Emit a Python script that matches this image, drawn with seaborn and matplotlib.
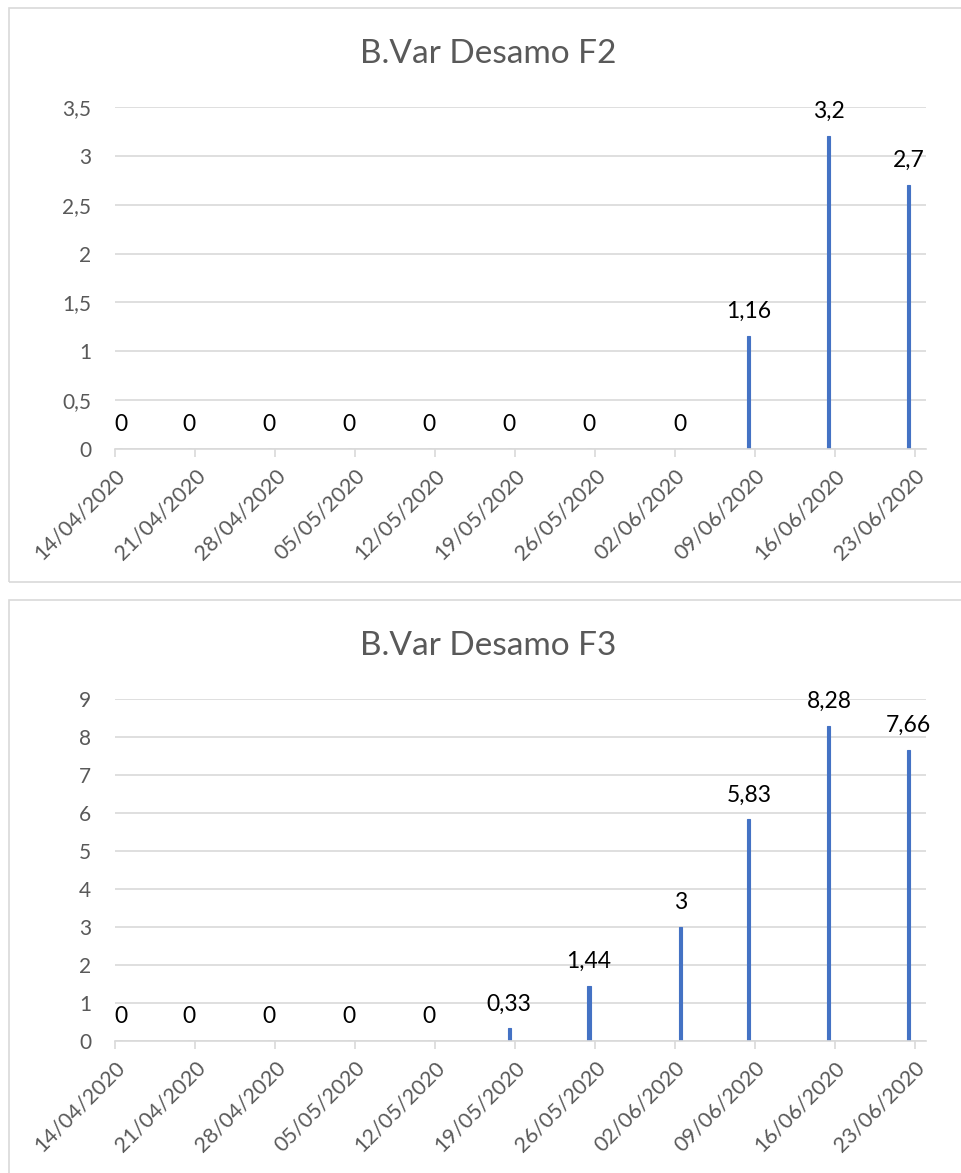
import matplotlib
matplotlib.use('Agg')
import matplotlib.pyplot as plt
import matplotlib.dates as mdates
import matplotlib.patches as patches
import numpy as np
import pandas as pd
import seaborn as sns

# Dados
datas = ['14/04/2020', '20/04/2020', '27/04/2020', '04/05/2020', '11/05/2020', '18/05/2020',
         '25/05/2020', '02/06/2020', '08/06/2020', '15/06/2020', '22/06/2020']
valores_f2 = [0, 0, 0, 0, 0, 0, 0, 0, 1.16, 3.2, 2.7]
valores_f3 = [0, 0, 0, 0, 0, 0.33, 1.44, 3, 5.83, 8.28, 7.66]
titulos = ['B.Var Desamo F2', 'B.Var Desamo F3']
eixo_datas = ['14/04/2020', '21/04/2020', '28/04/2020', '05/05/2020', '12/05/2020', '19/05/2020',
              '26/05/2020', '02/06/2020', '09/06/2020', '16/06/2020', '23/06/2020']
yticks_f2 = [0, 0.5, 1, 1.5, 2, 2.5, 3, 3.5]
yticks_f3 = [0, 1, 2, 3, 4, 5, 6, 7, 8, 9]

AZUL = '#4472C4'
CINZA = '#595959'
GRADE = '#D9D9D9'

sns.set_theme(style='white')
plt.rcParams['font.family'] = ['Lato', 'DejaVu Sans']

W, H = 961, 1173


def fmt_br(v):
    return f"{v:g}".replace('.', ',')


def desenhar(fig, topo_px, valores, yticks, titulo):
    # moldura do gráfico (estilo Excel)
    fig.patches.append(patches.Rectangle((9 / W, 1 - (topo_px + 574) / H), 1.0, 574 / H,
                                         transform=fig.transFigure, fill=False,
                                         edgecolor=GRADE, linewidth=1.2))
    fig.text(488 / W, 1 - (topo_px + 55) / H, titulo, ha='center', va='baseline',
             fontsize=24, color=CINZA)

    base_px = topo_px + 441
    ax = fig.add_axes([115 / W, 1 - base_px / H, 811 / W, 342 / H])

    x = mdates.date2num(pd.to_datetime(datas, format='%d/%m/%Y')) + 0.5
    sns.barplot(x=x, y=valores, native_scale=True, width=0.045, color=AZUL,
                saturation=1, errorbar=None, ax=ax, edgecolor=AZUL, linewidth=0.8)

    for xi, v in zip(x, valores):
        ax.annotate(fmt_br(v), (xi, v), xytext=(0, 13), textcoords='offset points',
                    ha='center', va='baseline', fontsize=16.5, color='black')

    ticks = mdates.date2num(pd.to_datetime(eixo_datas, format='%d/%m/%Y'))
    ax.set_xlim(ticks[0], ticks[0] + 71)
    ax.set_xticks(ticks)
    ax.set_xticklabels(eixo_datas, rotation=45, ha='right', rotation_mode='anchor',
                       fontsize=15.5, color=CINZA)
    ax.set_ylim(yticks[0], yticks[-1])
    ax.set_yticks(yticks)
    ax.set_yticklabels([fmt_br(t) for t in yticks], fontsize=15, color=CINZA)
    ax.set_xlabel('')
    ax.set_ylabel('')

    ax.grid(axis='y', color=GRADE, linewidth=1.2)
    ax.set_axisbelow(True)
    for s in ['left', 'right', 'top']:
        ax.spines[s].set_visible(False)
    ax.spines['bottom'].set_color(GRADE)
    ax.spines['bottom'].set_linewidth(1.2)
    ax.tick_params(axis='x', bottom=True, length=6, width=1.2, color=GRADE, pad=6)
    ax.tick_params(axis='y', left=False, length=0, pad=17)
    ax.set_facecolor('none')
    return ax


fig = plt.figure(figsize=(W / 100, H / 100), dpi=100)
fig.patch.set_facecolor('white')

desenhar(fig, 8, valores_f2, yticks_f2, titulos[0])
desenhar(fig, 600, valores_f3, yticks_f3, titulos[1])

fig.savefig('out.png', dpi=100)
